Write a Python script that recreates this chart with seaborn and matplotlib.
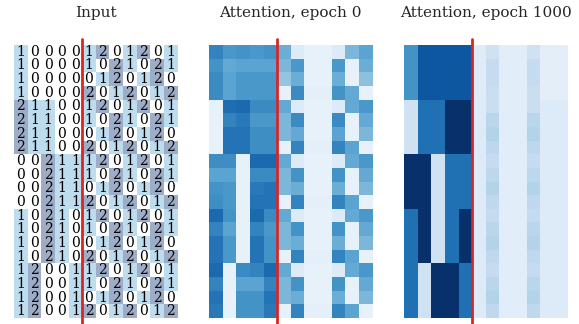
import matplotlib
matplotlib.use("Agg")
import matplotlib.pyplot as plt
import seaborn as sns
import numpy as np
from matplotlib.colors import ListedColormap

# input sequences: 5 "query" digits | 7 "key" digits
input_rows = [
    "100001201201", "100001021021", "100000120120", "100002012012",
    "211001201201", "211001021021", "211000120120", "211002012012",
    "002111201201", "002111021021", "002110120120", "002112012012",
    "102101201201", "102101021021", "102100120120", "102102012012",
    "120011201201", "120011021021", "120010120120", "120012012012",
]

attn_epoch0 = [
    [0.68, 0.60, 0.62, 0.60, 0.62, 0.50, 0.13, 0.08, 0.08, 0.13, 0.46, 0.55],
    [0.62, 0.52, 0.55, 0.55, 0.55, 0.46, 0.60, 0.08, 0.08, 0.60, 0.08, 0.50],
    [0.65, 0.55, 0.60, 0.60, 0.60, 0.40, 0.50, 0.08, 0.08, 0.50, 0.08, 0.42],
    [0.65, 0.55, 0.60, 0.60, 0.60, 0.08, 0.65, 0.09, 0.09, 0.62, 0.52, 0.08],
    [0.08, 0.76, 0.78, 0.65, 0.65, 0.52, 0.13, 0.08, 0.08, 0.13, 0.52, 0.60],
    [0.08, 0.68, 0.72, 0.60, 0.60, 0.46, 0.65, 0.08, 0.08, 0.65, 0.08, 0.52],
    [0.08, 0.74, 0.74, 0.64, 0.64, 0.46, 0.52, 0.08, 0.08, 0.55, 0.08, 0.46],
    [0.08, 0.74, 0.74, 0.64, 0.64, 0.08, 0.68, 0.09, 0.09, 0.68, 0.55, 0.08],
    [0.64, 0.64, 0.08, 0.78, 0.78, 0.52, 0.13, 0.08, 0.08, 0.13, 0.52, 0.60],
    [0.55, 0.55, 0.08, 0.65, 0.65, 0.46, 0.62, 0.08, 0.08, 0.62, 0.08, 0.52],
    [0.62, 0.60, 0.08, 0.72, 0.74, 0.46, 0.50, 0.08, 0.08, 0.50, 0.08, 0.46],
    [0.64, 0.60, 0.08, 0.74, 0.74, 0.08, 0.68, 0.09, 0.09, 0.68, 0.55, 0.08],
    [0.78, 0.62, 0.08, 0.78, 0.65, 0.52, 0.13, 0.08, 0.08, 0.13, 0.52, 0.60],
    [0.68, 0.55, 0.08, 0.68, 0.60, 0.46, 0.62, 0.08, 0.08, 0.62, 0.08, 0.52],
    [0.74, 0.60, 0.08, 0.74, 0.62, 0.46, 0.50, 0.08, 0.08, 0.50, 0.08, 0.46],
    [0.74, 0.60, 0.08, 0.74, 0.62, 0.08, 0.68, 0.09, 0.09, 0.68, 0.55, 0.08],
    [0.78, 0.08, 0.65, 0.68, 0.78, 0.52, 0.13, 0.08, 0.08, 0.13, 0.52, 0.60],
    [0.68, 0.08, 0.55, 0.55, 0.68, 0.46, 0.62, 0.08, 0.08, 0.62, 0.08, 0.52],
    [0.74, 0.08, 0.62, 0.62, 0.74, 0.46, 0.50, 0.08, 0.08, 0.50, 0.08, 0.46],
    [0.72, 0.08, 0.62, 0.62, 0.72, 0.08, 0.68, 0.09, 0.09, 0.68, 0.55, 0.08],
]

attn_epoch1000 = [
    [0.62, 0.85, 0.85, 0.85, 0.85, 0.12, 0.20, 0.11, 0.11, 0.20, 0.10, 0.10],
    [0.62, 0.85, 0.85, 0.85, 0.85, 0.12, 0.25, 0.11, 0.11, 0.25, 0.10, 0.10],
    [0.62, 0.85, 0.85, 0.85, 0.85, 0.12, 0.25, 0.11, 0.11, 0.25, 0.10, 0.10],
    [0.62, 0.85, 0.85, 0.85, 0.85, 0.12, 0.23, 0.11, 0.11, 0.23, 0.10, 0.10],
    [0.20, 0.75, 0.75, 1.00, 1.00, 0.13, 0.23, 0.11, 0.11, 0.23, 0.13, 0.13],
    [0.20, 0.75, 0.75, 1.00, 1.00, 0.13, 0.29, 0.11, 0.11, 0.29, 0.13, 0.13],
    [0.20, 0.75, 0.75, 1.00, 1.00, 0.13, 0.31, 0.11, 0.11, 0.31, 0.13, 0.13],
    [0.20, 0.75, 0.75, 1.00, 1.00, 0.13, 0.28, 0.11, 0.11, 0.28, 0.13, 0.13],
    [1.00, 1.00, 0.20, 0.75, 0.75, 0.13, 0.25, 0.11, 0.11, 0.25, 0.13, 0.13],
    [1.00, 1.00, 0.20, 0.75, 0.75, 0.13, 0.28, 0.11, 0.11, 0.28, 0.13, 0.13],
    [1.00, 1.00, 0.20, 0.75, 0.75, 0.13, 0.31, 0.11, 0.11, 0.31, 0.13, 0.13],
    [1.00, 1.00, 0.20, 0.75, 0.75, 0.13, 0.27, 0.11, 0.11, 0.27, 0.13, 0.13],
    [0.75, 1.00, 0.20, 0.75, 1.00, 0.13, 0.25, 0.11, 0.11, 0.25, 0.13, 0.13],
    [0.75, 1.00, 0.20, 0.75, 1.00, 0.13, 0.29, 0.11, 0.11, 0.29, 0.13, 0.13],
    [0.75, 1.00, 0.20, 0.75, 1.00, 0.13, 0.31, 0.11, 0.11, 0.31, 0.13, 0.13],
    [0.75, 1.00, 0.20, 0.75, 1.00, 0.13, 0.27, 0.11, 0.11, 0.27, 0.13, 0.13],
    [0.75, 0.20, 1.00, 1.00, 0.75, 0.13, 0.25, 0.11, 0.11, 0.25, 0.13, 0.13],
    [0.75, 0.20, 1.00, 1.00, 0.75, 0.13, 0.29, 0.11, 0.11, 0.29, 0.13, 0.13],
    [0.75, 0.20, 1.00, 1.00, 0.75, 0.13, 0.31, 0.11, 0.11, 0.31, 0.13, 0.13],
    [0.75, 0.20, 1.00, 1.00, 0.75, 0.13, 0.27, 0.11, 0.11, 0.27, 0.13, 0.13],
]

titles = ["Input", "Attention, epoch 0", "Attention, epoch 1000"]
split_col = 5

sns.set_theme(style="white")
plt.rcParams['font.family'] = 'DejaVu Serif'

fig = plt.figure(figsize=(5.79, 3.24), dpi=100)
lefts = [14 / 579, 209 / 579, 404 / 579]
axes = [fig.add_axes([l, 6 / 324, 163.5 / 579, 273 / 324]) for l in lefts]

input_grid = np.array([[int(c) for c in row] for row in input_rows])
input_cmap = ListedColormap(["#ffffff", "#bddcee", "#9dadc7"])
sns.heatmap(input_grid, ax=axes[0], cmap=input_cmap, vmin=-0.5, vmax=2.5, cbar=False,
            annot=True, fmt="d", xticklabels=False, yticklabels=False,
            annot_kws={"fontsize": 10, "color": "black", "family": "DejaVu Serif"})

for ax, data in zip(axes[1:], [attn_epoch0, attn_epoch1000]):
    sns.heatmap(np.array(data), ax=ax, cmap="Blues", vmin=0, vmax=1, cbar=False,
                xticklabels=False, yticklabels=False)

for ax, t in zip(axes, titles):
    ax.axvline(split_col, ymin=-0.03, ymax=1.022, color="#d62728", linewidth=2, clip_on=False)
    ax.set_title(t, fontsize=11, pad=20)

plt.savefig("out.png", dpi=100)
